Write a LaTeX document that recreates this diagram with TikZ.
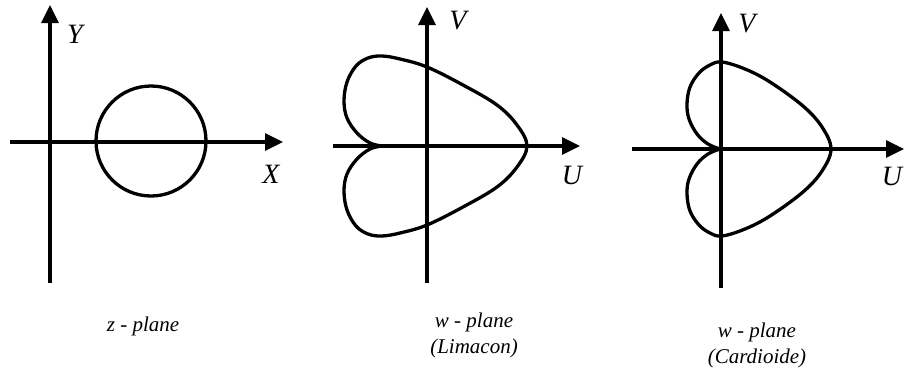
\documentclass[tikz,border=0pt]{standalone}
\usepackage{fontspec}
\setmainfont{Liberation Serif}
\usetikzlibrary{arrows.meta}
\begin{document}
\begin{tikzpicture}[x=1pt,y=-1pt,
  axis/.style={line width=3.3pt,-{Triangle[length=18pt,width=17pt]}},
  curve/.style={line width=3.3pt,line join=round},
  lbl/.style={font=\fontsize{28}{30}\selectfont\itshape,inner sep=0pt},
  capt/.style={font=\fontsize{21}{26}\selectfont\itshape,align=center,inner sep=0pt}]
\useasboundingbox (0,0) rectangle (905,383);
% panel 1
\coordinate (y1s) at (50,283); \coordinate (y1e) at (50,5);
\coordinate (x1s) at (10,142); \coordinate (x1e) at (283,142);
\draw[axis] (y1s) -- (y1e);
\draw[axis] (x1s) -- (x1e);
\coordinate (c1) at (151,141);
\draw[curve] (c1) circle[radius=55];
\node[lbl] (Y1) at (75,34) {Y};
\node[lbl] (X1) at (271,174) {X};
\node[capt] (cap1) at (143,326) {z - plane};
% panel 2
\coordinate (v2s) at (427,283); \coordinate (v2e) at (427,7);
\coordinate (u2s) at (333,146); \coordinate (u2e) at (580,146);
\draw[axis] (v2s) -- (v2e);
\draw[axis] (u2s) -- (u2e);
\draw[curve] plot[smooth,tension=0.6] coordinates {(382,146) (370,143) (357,133) (347,118) (344,101) (347,82) (356,66) (368,58) (382,56) (400,59) (427,67) (463,85) (497,105) (517,125) (527,146) (517,167) (497,187) (463,207) (427,225) (400,233) (382,236) (368,234) (356,226) (347,210) (344,191) (347,174) (357,159) (370,149) (382,146)};
\node[lbl] (V2) at (458,21) {V};
\node[lbl] (U2) at (572,175) {U};
\node[capt] (cap2) at (474,335) {w - plane\\(Limacon)};
% panel 3
\coordinate (v3s) at (721,288); \coordinate (v3e) at (721,13);
\coordinate (u3s) at (632,149); \coordinate (u3e) at (904,149);
\draw[axis] (v3s) -- (v3e);
\draw[axis] (u3s) -- (u3e);
\draw[curve] plot[smooth,tension=0.6] coordinates {(720,149) (708,144) (697,134) (689,119) (687,104) (690,87) (699,73) (710,65) (722,62) (745,69) (770,82) (803,106) (822,127) (831,149) (822,171) (803,192) (770,216) (745,229) (722,236) (710,233) (699,225) (690,211) (687,194) (689,179) (697,164) (708,154) (720,149)};
\node[lbl] (V3) at (747,24) {V};
\node[lbl] (U3) at (892,176) {U};
\node[capt] (cap3) at (757,345) {w - plane\\(Cardioide)};
\end{tikzpicture}
\end{document}
